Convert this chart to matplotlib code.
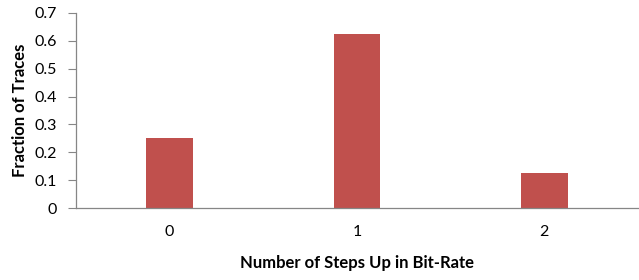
import matplotlib
matplotlib.use("Agg")
import matplotlib.pyplot as plt

steps = ["0", "1", "2"]
fractions = [0.25, 0.625, 0.125]
yticks = [0, 0.1, 0.2, 0.3, 0.4, 0.5, 0.6, 0.7]
ytick_labels = ["0", "0.1", "0.2", "0.3", "0.4", "0.5", "0.6", "0.7"]

plt.rcParams['font.family'] = ['Lato', 'DejaVu Sans']

fig = plt.figure(figsize=(6.39, 2.8), dpi=100)
ax = fig.add_axes([76 / 639, 72 / 280, 562 / 639, 195 / 280])

x = range(len(steps))
ax.bar(x, fractions, width=0.25, color='#C0504D')
ax.set_xlim(-0.5, 2.5)
ax.set_ylim(0, 0.7)
ax.set_xticks(list(x))
ax.set_xticklabels(steps, fontsize=11.5)
ax.set_yticks(yticks)
ax.set_yticklabels(ytick_labels, fontsize=11.5)
ax.tick_params(axis='x', length=0, pad=12)
ax.tick_params(axis='y', length=6, color='#868686', pad=8)

for s in ['top', 'right']:
    ax.spines[s].set_visible(False)
for s in ['left', 'bottom']:
    ax.spines[s].set_color('#868686')
    ax.spines[s].set_linewidth(0.9)

ax.set_xlabel('Number of Steps Up in Bit-Rate', fontsize=12, fontweight='bold', labelpad=12)
ax.set_ylabel('Fraction of Traces', fontsize=12, fontweight='bold', labelpad=4)

fig.savefig('out.png', dpi=100)
